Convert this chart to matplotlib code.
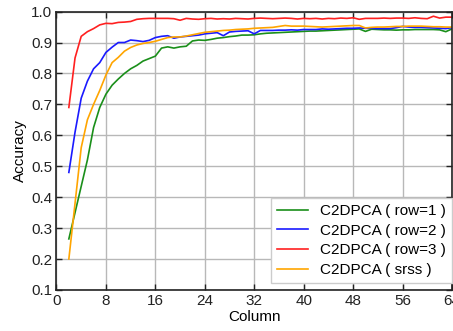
import matplotlib
matplotlib.use("Agg")
import matplotlib.pyplot as plt
import numpy as np

plt.rcParams['font.family'] = ['Liberation Sans', 'DejaVu Sans']

columns = list(range(2, 65))

acc_row1 = [0.265, 0.35, 0.435, 0.52, 0.625, 0.69, 0.733, 0.762, 0.782, 0.80, 0.815, 0.826, 0.84, 0.848, 0.856,
            0.882, 0.886, 0.882, 0.886, 0.888, 0.905, 0.908, 0.907, 0.91, 0.914, 0.916, 0.919, 0.921, 0.924, 0.924,
            0.925, 0.928, 0.93, 0.931, 0.932, 0.933, 0.934, 0.935, 0.936, 0.937, 0.937, 0.938, 0.939, 0.94, 0.941,
            0.942, 0.943, 0.944, 0.936, 0.943, 0.942, 0.941, 0.941, 0.94, 0.941, 0.941, 0.942, 0.942, 0.942, 0.942,
            0.941, 0.935, 0.944]

acc_row2 = [0.48, 0.61, 0.72, 0.775, 0.815, 0.835, 0.868, 0.885, 0.9, 0.9, 0.908, 0.906, 0.903, 0.907, 0.916,
            0.92, 0.922, 0.914, 0.918, 0.92, 0.922, 0.924, 0.928, 0.93, 0.932, 0.922, 0.934, 0.936, 0.937, 0.938,
            0.928, 0.939, 0.939, 0.939, 0.94, 0.94, 0.941, 0.94, 0.942, 0.942, 0.942, 0.944, 0.943, 0.944, 0.945,
            0.946, 0.946, 0.947, 0.946, 0.946, 0.945, 0.945, 0.945, 0.948, 0.952, 0.95, 0.949, 0.949, 0.948, 0.947,
            0.946, 0.945, 0.948]

acc_row3 = [0.69, 0.85, 0.92, 0.935, 0.945, 0.957, 0.962, 0.961, 0.965, 0.966, 0.968, 0.975, 0.977, 0.978, 0.978,
            0.978, 0.978, 0.977, 0.972, 0.978, 0.976, 0.975, 0.977, 0.978, 0.976, 0.977, 0.976, 0.978, 0.977, 0.976,
            0.978, 0.979, 0.978, 0.977, 0.978, 0.979, 0.978, 0.976, 0.978, 0.977, 0.978, 0.976, 0.978, 0.977, 0.979,
            0.978, 0.98, 0.975, 0.978, 0.978, 0.978, 0.979, 0.978, 0.979, 0.979, 0.978, 0.98, 0.978, 0.977, 0.985,
            0.979, 0.982, 0.982]

acc_srss = [0.2, 0.38, 0.56, 0.65, 0.70, 0.745, 0.795, 0.835, 0.852, 0.872, 0.884, 0.892, 0.897, 0.9, 0.904,
            0.91, 0.916, 0.918, 0.918, 0.921, 0.925, 0.929, 0.933, 0.935, 0.937, 0.939, 0.94, 0.942, 0.943, 0.944,
            0.946, 0.947, 0.948, 0.949, 0.952, 0.955, 0.953, 0.953, 0.953, 0.952, 0.951, 0.95, 0.951, 0.952, 0.953,
            0.954, 0.955, 0.955, 0.947, 0.949, 0.95, 0.95, 0.951, 0.952, 0.952, 0.953, 0.953, 0.953, 0.952, 0.951,
            0.951, 0.95, 0.95]

labels = ['C2DPCA ( row=1 )', 'C2DPCA ( row=2 )', 'C2DPCA ( row=3 )', 'C2DPCA ( srss )']
colors = ['#1a8f1a', '#1a1aff', '#ff2020', '#ffa500']

x_ticks = [0, 8, 16, 24, 32, 40, 48, 56, 64]
y_ticks = [0.1, 0.2, 0.3, 0.4, 0.5, 0.6, 0.7, 0.8, 0.9, 1.0]

fig = plt.figure(figsize=(4.53, 3.31), dpi=100)
ax = fig.add_axes([0.1247, 0.124, 0.873, 0.841])

for series, lab, col in zip([acc_row1, acc_row2, acc_row3, acc_srss], labels, colors):
    ax.plot(columns, series, color=col, lw=1.2, label=lab)

ax.set_xlim(0, 64)
ax.set_ylim(0.1, 1.0)
ax.set_xticks(x_ticks)
ax.set_yticks(y_ticks)
ax.set_yticklabels([f"{v:.1f}" for v in y_ticks])
ax.grid(True, color='#b8b8b8', lw=1.0)
ax.set_axisbelow(True)
ax.tick_params(direction='in', top=True, right=True, labelsize=11, length=4, width=1, colors='#222222', pad=3)
for s in ax.spines.values():
    s.set_color('#222222')
    s.set_linewidth(1.2)

ax.set_xlabel('Column', fontsize=11, labelpad=1)
ax.set_ylabel('Accuracy', fontsize=11, labelpad=3)

leg = ax.legend(loc='lower right', bbox_to_anchor=(1.0, 0.025), borderaxespad=0, fontsize=11,
                handlelength=2.03, handletextpad=0.78, labelspacing=0.37, fancybox=False,
                edgecolor='#cccccc', framealpha=1.0, borderpad=0.4)

fig.savefig('out.png', dpi=100)
